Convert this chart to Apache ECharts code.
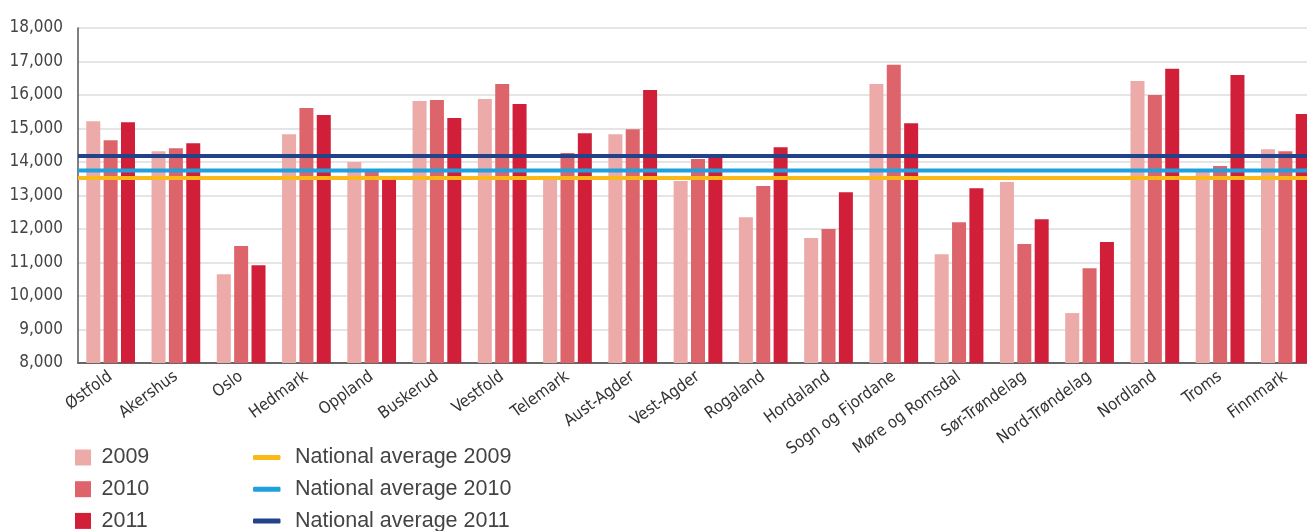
<!DOCTYPE html>
<html>
<head>
<meta charset="utf-8">
<script src="https://cdn.jsdelivr.net/npm/echarts@6/dist/echarts.min.js"></script>
<style>
  html, body { margin: 0; padding: 0; background: #fff; }
  #chart { width: 1307px; height: 531px; }
</style>
</head>
<body>
<div id="chart"></div>
<script>
// Counties
const categories = ['Østfold', 'Akershus', 'Oslo', 'Hedmark', 'Oppland', 'Buskerud', 'Vestfold',
  'Telemark', 'Aust-Agder', 'Vest-Agder', 'Rogaland', 'Hordaland', 'Sogn og Fjordane',
  'Møre og Romsdal', 'Sør-Trøndelag', 'Nord-Trøndelag', 'Nordland', 'Troms', 'Finnmark'];

// County values per year
const values2009 = [15220, 14320, 10650, 14830, 14000, 15820, 15880, 13480, 14830, 13430,
  12350, 11730, 16330, 11250, 13400, 9490, 16420, 13720, 14380];
const values2010 = [14650, 14410, 11490, 15610, 13760, 15850, 16330, 14270, 14980, 14090,
  13280, 12000, 16900, 12200, 11550, 10830, 16000, 13880, 14320];
const values2011 = [15190, 14560, 10920, 15400, 13470, 15310, 15730, 14860, 16150, 14140,
  14440, 13100, 15160, 13220, 12290, 11610, 16780, 16600, 15430];

// National averages
const nationalAverage2009 = 13520;
const nationalAverage2010 = 13750;
const nationalAverage2011 = 14180;

// Value axis
const yMin = 8000;
const yMax = 18000;
const yStep = 1000;

const narrowFont = "'DejaVu Sans Condensed', 'DejaVu Sans', sans-serif";
const legendFont = "'Liberation Sans', Arial, sans-serif";

const barColors = ['#ecaba8', '#de646b', '#d11f3a'];
const lineColors = ['#fbb919', '#1ea1dc', '#22428a'];

function avgLine(name, value, color) {
  return {
    name: name,
    type: 'line',
    xAxisIndex: 1,
    data: categories.map(() => value),
    symbol: 'none',
    lineStyle: { color: color, width: 4 },
    itemStyle: { color: color },
    z: 5,
    silent: true
  };
}

function barSeries(name, values, color) {
  return {
    name: name,
    type: 'bar',
    data: values,
    barWidth: 14,
    barGap: '24%',
    itemStyle: { color: color },
    z: 2
  };
}

function legendText(gap) {
  return { fontFamily: legendFont, fontSize: 21.5, color: '#444', lineHeight: 22, padding: [0, 0, 0, gap] };
}

const chart = echarts.init(document.getElementById('chart'));
chart.setOption({
  animation: false,
  backgroundColor: '#fff',
  grid: {
    left: 78,
    top: 28,
    width: 1240,
    height: 335,
    containLabel: false,
    outerBoundsMode: 'none'
  },
  legend: [
    {
      data: ['2009', '2010', '2011'],
      orient: 'vertical',
      left: 75,
      top: 446.5,
      height: 120,
      padding: 0,
      icon: 'rect',
      itemWidth: 16,
      itemHeight: 16,
      itemGap: 9.7,
      textStyle: legendText(5.5)
    },
    {
      data: ['National average 2009', 'National average 2010', 'National average 2011'],
      orient: 'vertical',
      left: 253,
      top: 446.5,
      height: 120,
      padding: 0,
      icon: 'roundRect',
      itemWidth: 27.5,
      itemHeight: 5,
      itemGap: 9.7,
      itemStyle: { borderWidth: 0 },
      textStyle: legendText(9.5)
    }
  ],
  xAxis: [
    {
      type: 'category',
      data: categories,
      boundaryGap: true,
      axisLine: { show: true, lineStyle: { color: '#666', width: 2 } },
      axisTick: { show: false },
      axisLabel: {
        interval: 0,
        rotate: 36,
        margin: 12,
        fontFamily: narrowFont,
        fontSize: 16.5,
        color: '#333'
      },
      splitLine: { show: false }
    },
    {
      type: 'category',
      data: categories,
      boundaryGap: false,
      show: false
    }
  ],
  yAxis: {
    type: 'value',
    min: yMin,
    max: yMax,
    interval: yStep,
    axisLine: { show: true, lineStyle: { color: '#555', width: 1.5 } },
    axisTick: { show: false },
    axisLabel: {
      margin: 15,
      fontFamily: narrowFont,
      fontSize: 17,
      color: '#444',
      formatter: v => v.toLocaleString('en-US')
    },
    splitLine: { show: true, lineStyle: { color: '#dddddd', width: 1.5 } }
  },
  series: [
    barSeries('2009', values2009, barColors[0]),
    barSeries('2010', values2010, barColors[1]),
    barSeries('2011', values2011, barColors[2]),
    avgLine('National average 2009', nationalAverage2009, lineColors[0]),
    avgLine('National average 2010', nationalAverage2010, lineColors[1]),
    avgLine('National average 2011', nationalAverage2011, lineColors[2])
  ]
});
</script>
</body>
</html>
